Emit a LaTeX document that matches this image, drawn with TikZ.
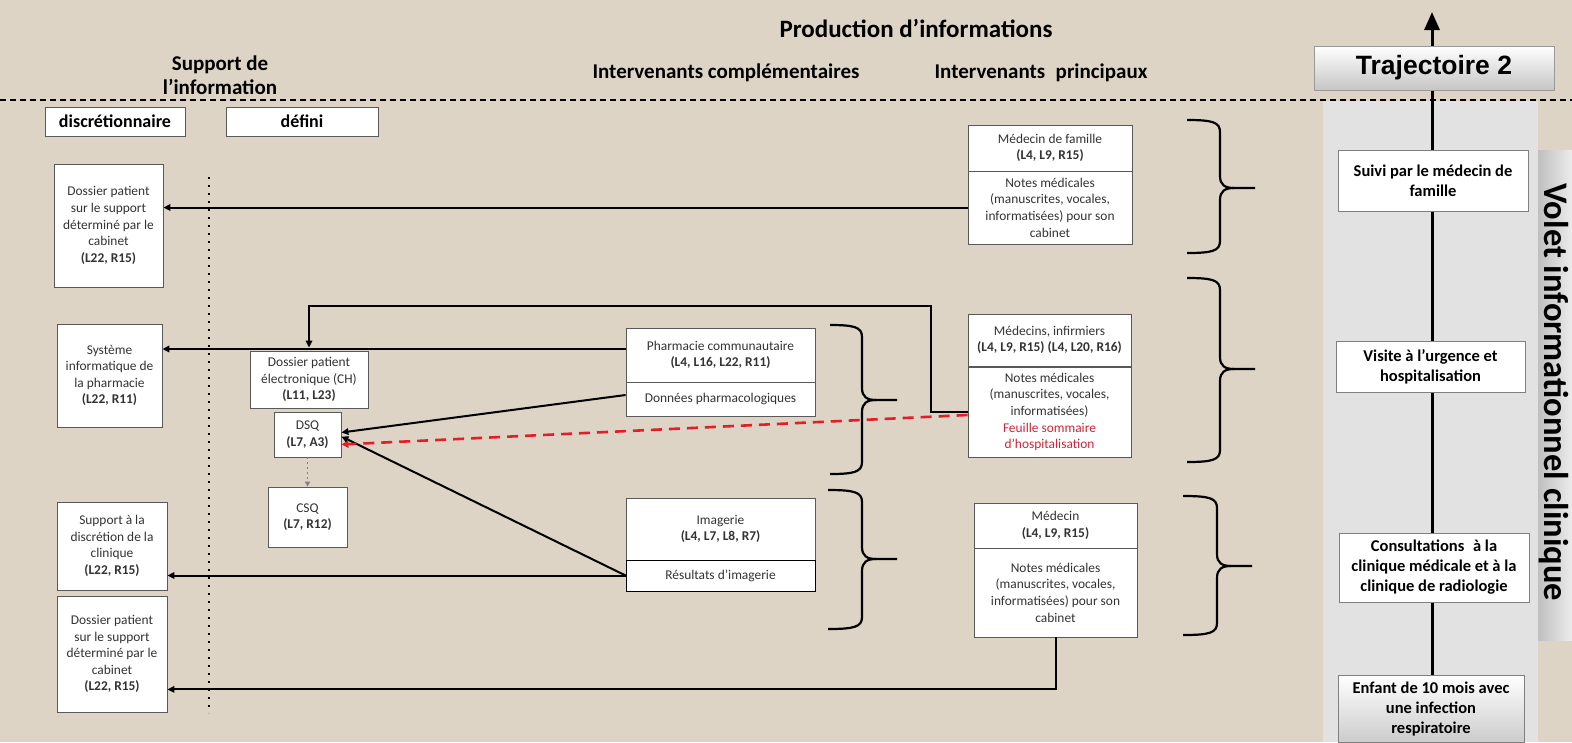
\documentclass[tikz,border=0pt]{standalone}
\usepackage{fontspec}
\setmainfont{Carlito}
\newfontfamily\arialf{Liberation Sans}
\usetikzlibrary{arrows.meta}
\definecolor{bg}{HTML}{DDD4C6}
\definecolor{panel}{HTML}{E2E2E2}
\definecolor{bordc}{HTML}{595959}
\definecolor{redd}{HTML}{E41E26}
\definecolor{redt}{HTML}{C8283A}
\tikzset{
  bx/.style={draw=bordc, fill=white, line width=0.8pt, align=center, inner sep=1pt,
    font=\fontsize{13.4}{16.6}\selectfont, text=black!80},
  rbx/.style={draw=gray, fill=white, line width=0.8pt, align=center, inner sep=1pt,
    font=\fontsize{16.5}{20}\selectfont\bfseries},
  sz/.style 2 args={minimum width=#1pt, minimum height=#2pt},
  conn/.style={line width=2pt, -{Triangle[length=7pt,width=6.5pt]}},
  hd/.style={font=\fontsize{21}{24}\selectfont\bfseries, align=center},
  subhd/.style={draw=bordc, fill=white, line width=0.8pt, font=\fontsize{18}{20}\selectfont\bfseries, inner sep=1pt},
  brc/.style={line width=2.2pt},
}
\newcommand\curlyb[6]{%
  \draw[brc] (#1,#4) .. controls (#2-8,#4) and (#2,#4+2) .. (#2,#4+12) -- (#2,#5-12)
     .. controls (#2,#5-3) and (#2+5,#5) .. (#2+14,#5) -- (#3,#5);
  \draw[brc] (#1,#6) .. controls (#2-8,#6) and (#2,#6-2) .. (#2,#6-12) -- (#2,#5+12)
     .. controls (#2,#5+3) and (#2+5,#5) .. (#2+14,#5);
}
\begin{document}
\begin{tikzpicture}[x=1pt,y=-1pt]
\path[use as bounding box] (0,0) rectangle (1572,742);
\fill[bg] (0,0) rectangle (1572,742);
\fill[panel] (1323,101) rectangle (1538,742);
\shade[left color=gray!50, right color=gray!15] (1538,150) rectangle (1572,640);

% headers
\node[font=\fontsize{25}{28}\selectfont\bfseries] (prod) at (916,28) {Production d’informations};
\node[hd] (supp) at (220,75) {Support de\\l’information};
\node[hd] (icomp) at (726,73) {Intervenants complémentaires};
\node[hd] (iprin) at (1041,73) {Intervenants\hspace{0.5em}principaux};
\draw[line width=1.3pt, dash pattern=on 6pt off 4pt] (0,100) -- (1572,100);

\node[subhd, sz={140}{29}] (disc) at (115,121.5) {discrétionnaire};
\node[subhd, sz={152}{29}] (defi) at (302,121.5) {défini};

\draw[line width=2pt, dash pattern=on 1.8pt off 6.2pt] (209,177) -- (209,713);

% right axis
\coordinate (axtop) at (1432,12);
\draw[line width=3pt, -{Triangle[length=18pt,width=15pt]}] (1432,742) -- (axtop);

% braces
\curlyb{1187}{1220}{1255}{120}{188}{253}
\curlyb{1187}{1220}{1255}{278}{369}{462}
\curlyb{1183}{1217}{1252}{496}{566}{635}
\curlyb{830}{862}{897}{325}{400}{474}
\curlyb{828}{862}{897}{490}{559}{629}

% left column
\node[bx, sz={109}{123}] (dpa) at (108.5,225.5) {Dossier patient\\sur le support\\déterminé par le\\cabinet\\\textbf{(L22, R15)}};
\node[bx, sz={105}{103}] (sys) at (109.5,375.5) {Système\\informatique de\\la pharmacie\\\textbf{(L22, R11)}};
\node[bx, sz={110}{88}] (sup) at (112,546) {Support à la\\discrétion de la\\clinique\\\textbf{(L22, R15)}};
\node[bx, sz={110}{116}] (dpb) at (112,654) {Dossier patient\\sur le support\\déterminé par le\\cabinet\\\textbf{(L22, R15)}};

% defined column
\node[bx, sz={118}{57}] (dpe) at (309,379.5) {Dossier patient\\électronique (CH)\\\textbf{(L11, L23)}};
\node[bx, sz={67}{45}] (dsq) at (307.5,434.5) {DSQ\\\textbf{(L7, A3)}};
\node[bx, sz={79}{60}] (csq) at (307.5,517) {CSQ\\\textbf{(L7, R12)}};

% complementary
\node[bx, sz={189}{54}] (pht) at (720.5,355) {Pharmacie communautaire\\\textbf{(L4, L16, L22, R11)}};
\node[bx, sz={189}{34}] (phb) at (720.5,399) {Données pharmacologiques};
\node[bx, sz={189}{62}] (imt) at (720.5,529) {Imagerie\\\textbf{(L4, L7, L8, R7)}};
\node[bx, draw=black, sz={189}{31}] (imb) at (720.5,575.5) {Résultats d’imagerie};

% principal
\node[bx, sz={164}{46}] (mft) at (1050,148) {Médecin de famille\\\textbf{(L4, L9, R15)}};
\node[bx, sz={164}{73}] (mfb) at (1050,207.5) {Notes médicales\\(manuscrites, vocales,\\informatisées) pour son\\cabinet};
\node[bx, sz={163}{52}] (mit) at (1049.5,340) {Médecins, infirmiers\\\textbf{(L4, L9, R15) (L4, L20, R16)}};
\node[bx, sz={163}{90}] (mib) at (1049.5,412) {Notes médicales\\(manuscrites, vocales,\\informatisées)\\{\color{redt}Feuille sommaire}\\{\color{redt}d’hospitalisation}};
\node[bx, sz={163}{45}] (mt) at (1055.5,525.5) {Médecin\\\textbf{(L4, L9, R15)}};
\node[bx, sz={163}{89}] (mb) at (1055.5,592.5) {Notes médicales\\(manuscrites, vocales,\\informatisées) pour son\\cabinet};

% right boxes
\node[rbx, draw=gray!80, top color=white, bottom color=gray!45, sz={240}{44}, font=\arialf\fontsize{26.5}{29}\selectfont\bfseries] (traj) at (1434,68) {Trajectoire 2};
\node[rbx, sz={190}{61}] (suivi) at (1433,180.5) {Suivi par le médecin de\\famille};
\node[rbx, sz={189}{51}] (visite) at (1430.5,367) {Visite à l’urgence et\\hospitalisation};
\node[rbx, sz={190}{69}] (consult) at (1434,567.5) {Consultations\hspace{0.3em} à la\\clinique médicale et à la\\clinique de radiologie};
\node[rbx, top color=white, bottom color=gray!40, sz={186}{67}] (enfant) at (1431,708.5) {Enfant de 10 mois avec\\une infection\\respiratoire};

\node[rotate=-90, font=\fontsize{34.5}{38}\selectfont\bfseries] (volet) at (1554,392) {Volet informationnel clinique};

% connectors
\draw[conn] (mfb.west) -- (mfb.west -| dpa.east);
\draw[conn] ([yshift=6pt]pht.west) -- ([yshift=6pt]pht.west -| sys.east);
\coordinate (fb) at ([xshift=-37pt]mib.west);
\draw[conn] (mib.west) -- (fb) |- ([yshift=45pt]dpe.north) -- ([yshift=3pt]dpe.north);
\draw[conn] ([yshift=4pt]phb.west) -- ([yshift=2pt]dsq.east);
\draw[conn] (imb.west) -- ([yshift=-2pt]dsq.east);
\draw[conn] (imb.west) -- (imb.west -| sup.east);
\draw[redd, line width=2.6pt, dash pattern=on 11pt off 7pt, -{Triangle[length=7pt,width=7pt]}] ([yshift=-3pt]mib.west) -- ([yshift=-10pt]dsq.east);
\draw[gray, line width=1.4pt, dash pattern=on 2pt off 3pt, -{Triangle[length=5pt,width=5pt]}] (dsq.south) -- (csq.north);
\coordinate (mbc) at ([yshift=-52pt]mb.south);
\draw[conn] (mb.south) -- (mbc) -- (mbc -| dpb.east);
\end{tikzpicture}
\end{document}
